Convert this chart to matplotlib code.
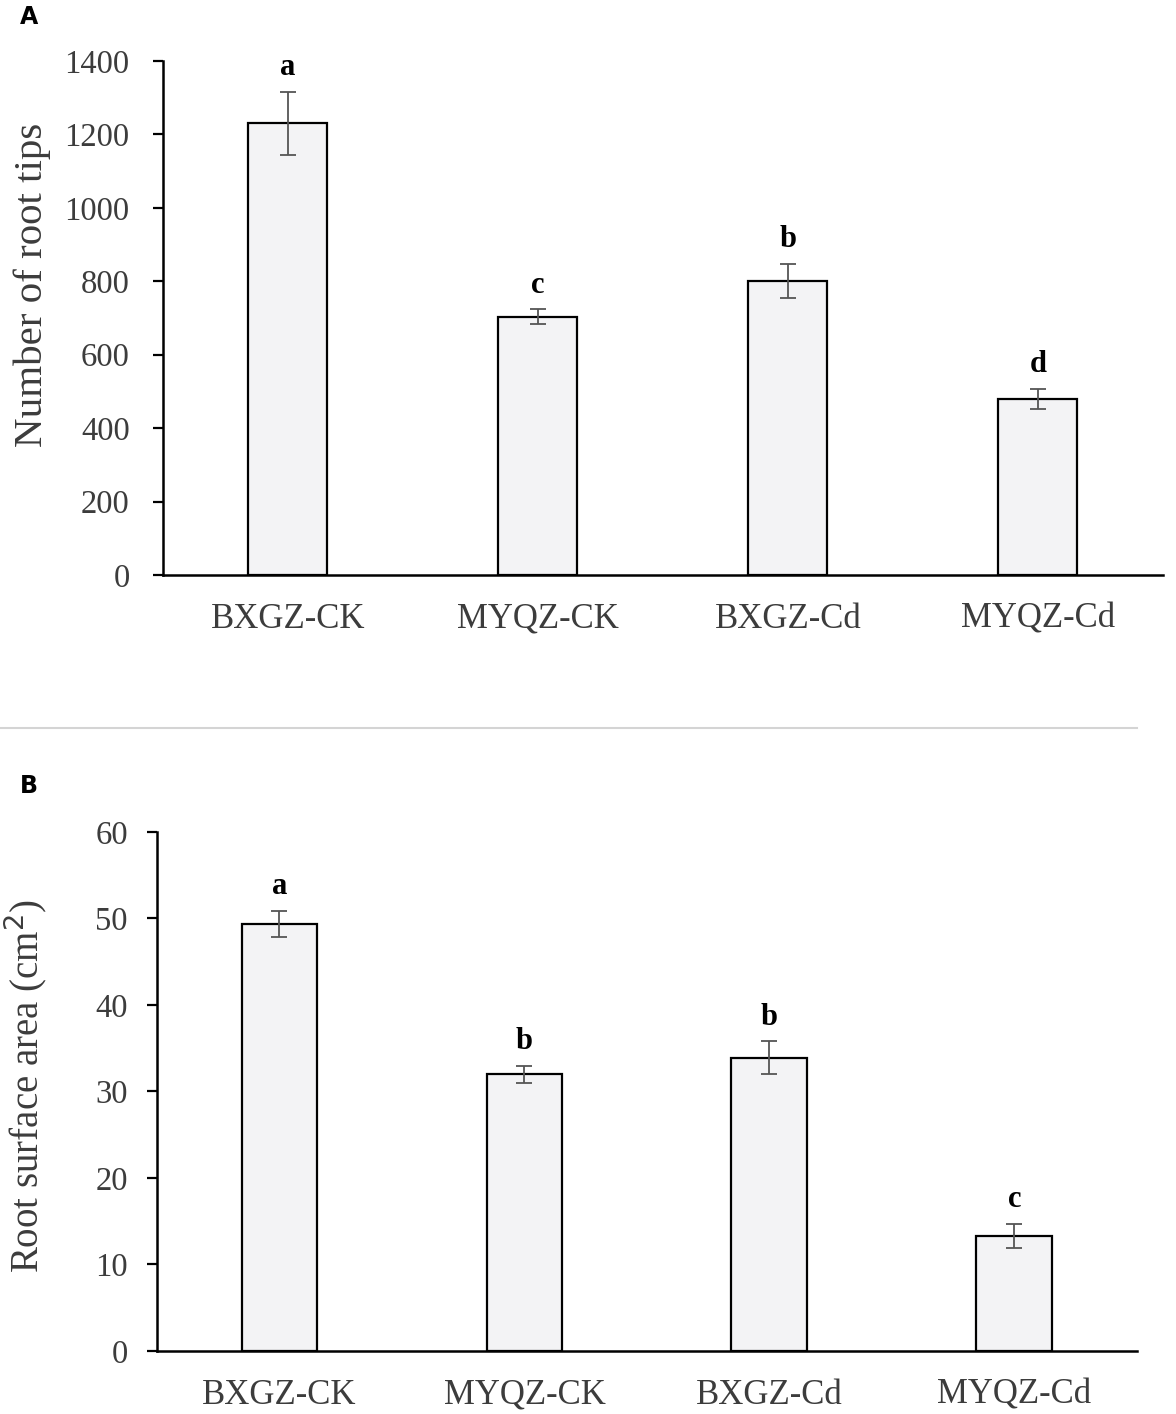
import matplotlib.pyplot as plt
from matplotlib.lines import Line2D

groups = ["BXGZ-CK", "MYQZ-CK", "BXGZ-Cd", "MYQZ-Cd"]

tips_mean = [1230, 703, 801, 480]
tips_err = [86, 20, 46, 27]
tips_letters = ["a", "c", "b", "d"]

area_mean = [49.4, 32.0, 33.9, 13.3]
area_err = [1.5, 1.0, 1.9, 1.4]
area_letters = ["a", "b", "b", "c"]

plt.rcParams["font.family"] = ["Liberation Serif", "DejaVu Serif"]
text_grey = "#3c3c3c"

fig = plt.figure(figsize=(11.76, 14.14), dpi=100)


def panel(rect, means, errs, letters, ylim, yticks, ylabel, ylabel_size, width, pad):
    ax = fig.add_axes(rect)
    x = range(len(groups))
    ax.bar(x, means, width=width, color="#f3f3f5", edgecolor="black",
           linewidth=1.6, zorder=2)
    ax.errorbar(x, means, yerr=errs, fmt="none", ecolor="#555555",
                elinewidth=1.3, capsize=6, capthick=1.3, zorder=3)
    for xi, m, e, lab in zip(x, means, errs, letters):
        ax.annotate(lab, (xi, m + e), xytext=(0, 12), textcoords="offset points",
                    ha="center", va="baseline", fontsize=22, fontweight="bold",
                    color="black")
    ax.set_xlim(-0.5, len(groups) - 0.5)
    ax.set_ylim(*ylim)
    ax.set_yticks(yticks)
    ax.set_xticks(list(x))
    ax.set_xticklabels(groups)
    ax.tick_params(axis="x", length=0, pad=20, labelsize=25, labelcolor=text_grey)
    ax.tick_params(axis="y", direction="out", length=7, width=1.6, pad=pad,
                   labelsize=23.5, labelcolor=text_grey)
    for s in ("top", "right"):
        ax.spines[s].set_visible(False)
    for s in ("left", "bottom"):
        ax.spines[s].set_linewidth(1.8)
    ax.set_ylabel(ylabel, fontsize=ylabel_size, color=text_grey)
    return ax


ax1 = panel([0.1386, 0.5934, 0.8503, 0.3635], tips_mean, tips_err, tips_letters,
            (0, 1400), range(0, 1401, 200), "Number of root tips", 29.5, 0.316, 17)
ax1.yaxis.set_label_coords(-0.112, 0.565)

ax2 = panel([0.1335, 0.0446, 0.8333, 0.3670], area_mean, area_err, area_letters,
            (0, 60), range(0, 61, 10), "Root surface area (cm$^2$)", 28, 0.31, 14)
ax2.yaxis.set_label_coords(-0.11, 0.51)

fig.text(0.017, 0.988, "A", fontsize=17, fontweight="bold", family="DejaVu Sans",
         ha="left", va="center")
fig.text(0.017, 0.444, "B", fontsize=17, fontweight="bold", family="DejaVu Sans",
         ha="left", va="center")

fig.add_artist(Line2D([0.0, 0.967], [1 - 728 / 1414] * 2, color="#d4d4d4",
                      linewidth=1.5, transform=fig.transFigure))

fig.savefig("out.png", dpi=100)
